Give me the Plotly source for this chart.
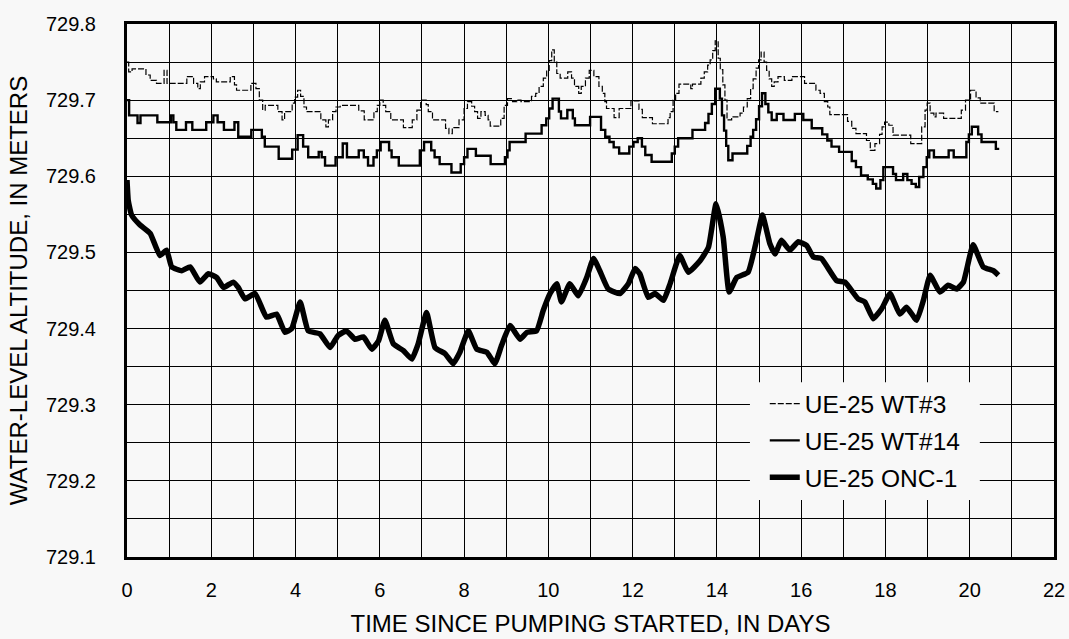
import plotly.graph_objects as go

# ---------------- data ----------------
wt3_days = [0.00, 0.04, 0.12, 0.45, 0.55, 0.70, 0.88, 0.95, 1.42, 1.58, 1.68, 1.74, 1.84, 2.05, 2.12,
            2.45, 2.55, 2.60, 2.94, 3.06, 3.14, 3.22, 3.28, 3.58, 3.68, 3.74, 3.92, 3.98, 4.05, 4.12,
            4.20, 4.26, 4.60, 4.72, 4.78, 4.88, 4.96, 5.06, 5.50, 5.63, 5.86, 5.94, 6.00, 6.08, 6.14,
            6.26, 6.56, 6.77, 6.88, 6.97, 7.10, 7.15, 7.25, 7.56, 7.64, 7.72, 7.88, 8.00, 8.08, 8.18,
            8.25, 8.32, 8.40, 8.50, 8.57, 8.62, 8.87, 8.95, 9.03, 9.15, 9.25, 9.35, 9.60, 9.70, 9.78,
            9.88, 9.96, 10.02, 10.08, 10.14, 10.20, 10.28, 10.46, 10.55, 10.62, 10.72, 10.78, 10.88,
            10.97, 11.08, 11.20, 11.28, 11.34, 11.38, 11.56, 11.68, 11.96, 12.15, 12.23, 12.47, 12.84,
            12.89, 12.96, 13.02, 13.10, 13.38, 13.42, 13.62, 13.70, 13.78, 13.84, 13.90, 13.96, 14.03,
            14.08, 14.14, 14.19, 14.24, 14.35, 14.55, 14.63, 14.72, 14.80, 14.86, 14.93, 14.99, 15.05,
            15.12, 15.18, 15.24, 15.30, 15.36, 15.45, 15.60, 15.78, 16.08, 16.35, 16.45, 16.55, 16.63,
            16.68, 17.10, 17.20, 17.30, 17.55, 17.64, 17.75, 17.86, 17.92, 17.98, 18.08, 18.18, 18.60,
            18.86, 18.94, 18.99, 19.06, 19.15, 19.20, 19.38, 19.80, 19.90, 20.02, 20.15, 20.25, 20.58,
            20.68]
wt3_m = [729.750, 729.737, 729.741, 729.733, 729.726, 729.722, 729.739, 729.722, 729.731, 729.722,
         729.715, 729.724, 729.731, 729.728, 729.724, 729.731, 729.720, 729.713, 729.722, 729.715,
         729.700, 729.687, 729.693, 729.685, 729.674, 729.685, 729.696, 729.704, 729.713, 729.705,
         729.691, 729.685, 729.674, 729.665, 729.674, 729.685, 729.691, 729.693, 729.686, 729.674,
         729.685, 729.693, 729.700, 729.693, 729.685, 729.674, 729.664, 729.674, 729.687, 729.700,
         729.694, 729.685, 729.674, 729.663, 729.656, 729.664, 729.674, 729.689, 729.698, 729.692,
         729.685, 729.676, 729.685, 729.680, 729.674, 729.666, 729.676, 729.693, 729.702, 729.698,
         729.700, 729.698, 729.705, 729.709, 729.718, 729.729, 729.739, 729.752, 729.766, 729.750,
         729.735, 729.729, 729.737, 729.729, 729.718, 729.709, 729.718, 729.729, 729.739, 729.731,
         729.718, 729.709, 729.698, 729.689, 729.677, 729.689, 729.699, 729.688, 729.677, 729.669,
         729.677, 729.685, 729.700, 729.709, 729.721, 729.715, 729.721, 729.729, 729.737, 729.746,
         729.753, 729.765, 729.778, 729.755, 729.740, 729.720, 729.700, 729.674, 729.678, 729.683,
         729.691, 729.702, 729.715, 729.728, 729.742, 729.753, 729.763, 729.750, 729.739, 729.728,
         729.718, 729.724, 729.731, 729.726, 729.731, 729.722, 729.713, 729.709, 729.698, 729.691,
         729.681, 729.672, 729.663, 729.656, 729.647, 729.634, 729.643, 729.655, 729.665, 729.671,
         729.667, 729.654, 729.643, 729.665, 729.687, 729.696, 729.683, 729.678, 729.683, 729.676,
         729.687, 729.700, 729.713, 729.703, 729.696, 729.685, 729.685]

wt14_days = [0.00, 0.05, 0.25, 0.32, 0.72, 1.04, 1.10, 1.17, 1.40, 1.55, 1.88, 2.05, 2.15, 2.30, 2.55,
             2.64, 2.95, 3.20, 3.27, 3.60, 3.92, 4.05, 4.18, 4.30, 4.55, 4.62, 4.70, 4.95, 5.12, 5.22,
             5.50, 5.62, 5.72, 5.85, 5.93, 6.02, 6.22, 6.28, 6.45, 6.95, 7.05, 7.22, 7.30, 7.42, 7.70,
             7.92, 8.00, 8.08, 8.28, 8.63, 8.97, 9.03, 9.08, 9.46, 9.84, 9.95, 10.02, 10.10, 10.25,
             10.30, 10.45, 10.58, 10.63, 10.99, 11.25, 11.35, 11.45, 11.55, 11.68, 11.92, 12.02, 12.12,
             12.22, 12.30, 12.45, 12.93, 13.00, 13.08, 13.42, 13.72, 13.80, 13.88, 13.96, 14.07, 14.12,
             14.17, 14.22, 14.27, 14.37, 14.72, 14.80, 14.86, 14.93, 15.00, 15.07, 15.15, 15.22, 15.30,
             15.42, 15.58, 15.85, 16.05, 16.25, 16.50, 16.62, 16.72, 16.90, 17.20, 17.30, 17.42, 17.58,
             17.70, 17.78, 17.88, 17.95, 18.18, 18.25, 18.42, 18.52, 18.62, 18.72, 18.80, 18.90, 18.98,
             19.04, 19.15, 19.50, 19.62, 19.92, 19.98, 20.05, 20.20, 20.28, 20.62, 20.70]
wt14_m = [729.700, 729.680, 729.670, 729.680, 729.671, 729.680, 729.671, 729.661, 729.671, 729.661,
          729.671, 729.680, 729.671, 729.661, 729.671, 729.652, 729.661, 729.652, 729.639, 729.623,
          729.635, 729.654, 729.639, 729.625, 729.632, 729.625, 729.614, 729.625, 729.643, 729.625,
          729.634, 729.625, 729.614, 729.625, 729.634, 729.645, 729.634, 729.625, 729.614, 729.634,
          729.645, 729.634, 729.625, 729.616, 729.605, 729.616, 729.625, 729.636, 729.627, 729.616,
          729.625, 729.634, 729.645, 729.656, 729.667, 729.676, 729.689, 729.702, 729.685, 729.676,
          729.687, 729.676, 729.667, 729.678, 729.661, 729.652, 729.645, 729.638, 729.630, 729.639,
          729.645, 729.650, 729.639, 729.628, 729.619, 729.630, 729.639, 729.650, 729.661, 729.670,
          729.682, 729.695, 729.715, 729.702, 729.680, 729.660, 729.640, 729.621, 729.630, 729.640,
          729.652, 729.661, 729.675, 729.692, 729.709, 729.695, 729.684, 729.674, 729.682, 729.674,
          729.682, 729.674, 729.663, 729.655, 729.647, 729.639, 729.632, 729.620, 729.612, 729.601,
          729.596, 729.590, 729.584, 729.595, 729.612, 729.603, 729.595, 729.603, 729.595, 729.590,
          729.586, 729.599, 729.612, 729.625, 729.634, 729.625, 729.634, 729.625, 729.645, 729.655,
          729.665, 729.655, 729.645, 729.636, 729.636]

onc1_days = [0.00, 0.03, 0.11, 0.31, 0.55, 0.78, 0.94, 1.06, 1.30, 1.50, 1.73, 1.93, 2.13, 2.29, 2.52,
             2.64, 2.80, 3.04, 3.31, 3.55, 3.75, 3.91, 4.11, 4.30, 4.58, 4.82, 5.01, 5.21, 5.41, 5.61,
             5.81, 5.97, 6.12, 6.32, 6.56, 6.76, 6.91, 7.11, 7.31, 7.55, 7.74, 7.90, 8.10, 8.30, 8.54,
             8.73, 8.89, 9.09, 9.33, 9.49, 9.72, 9.88, 10.04, 10.20, 10.31, 10.51, 10.71, 10.91, 11.07,
             11.22, 11.42, 11.70, 11.90, 12.06, 12.17, 12.37, 12.53, 12.73, 12.89, 13.12, 13.32, 13.60,
             13.80, 13.98, 14.15, 14.29, 14.47, 14.74, 14.94, 15.08, 15.26, 15.38, 15.53, 15.73, 15.93,
             16.13, 16.29, 16.48, 16.84, 17.04, 17.35, 17.51, 17.71, 17.91, 18.11, 18.34, 18.50, 18.74,
             18.90, 19.06, 19.29, 19.49, 19.69, 19.85, 20.08, 20.32, 20.56, 20.68]
onc1_m = [729.595, 729.568, 729.549, 729.536, 729.525, 729.496, 729.503, 729.481, 729.476, 729.481,
          729.461, 729.472, 729.467, 729.454, 729.461, 729.454, 729.439, 729.446, 729.415, 729.419,
          729.395, 729.400, 729.435, 729.397, 729.393, 729.375, 729.391, 729.397, 729.386, 729.389,
          729.373, 729.384, 729.411, 729.380, 729.371, 729.360, 729.380, 729.421, 729.375, 729.367,
          729.354, 729.369, 729.397, 729.373, 729.369, 729.354, 729.378, 729.404, 729.386, 729.395,
          729.397, 729.424, 729.446, 729.459, 729.435, 729.459, 729.443, 729.467, 729.492, 729.476,
          729.452, 729.446, 729.459, 729.479, 729.472, 729.441, 729.446, 729.437, 729.459, 729.496,
          729.474, 729.489, 729.507, 729.564, 729.520, 729.448, 729.467, 729.474, 729.516, 729.549,
          729.511, 729.498, 729.516, 729.503, 729.514, 729.509, 729.494, 729.492, 729.463, 729.461,
          729.439, 729.435, 729.413, 729.426, 729.446, 729.419, 729.428, 729.411, 729.437, 729.470,
          729.448, 729.457, 729.452, 729.461, 729.510, 729.481, 729.476, 729.470]

series_names = ["UE-25 WT#3", "UE-25 WT#14", "UE-25 ONC-1"]
x_tick_vals = [0, 2, 4, 6, 8, 10, 12, 14, 16, 18, 20, 22]
y_tick_vals = [729.1, 729.2, 729.3, 729.4, 729.5, 729.6, 729.7, 729.8]
y_tick_text = ["729.1", "729.2", "729.3", "729.4", "729.5", "729.6", "729.7", "729.8"]

# ---------------- figure ----------------
BG = "#f8f8f8"
FONT = "Liberation Sans, Arial, sans-serif"

fig = go.Figure()
fig.add_trace(go.Scatter(x=wt3_days, y=wt3_m, mode="lines", name=series_names[0],
                         line=dict(color="black", width=1.2, dash="6px,2px", shape="hv"),
                         legendgroup="a"))
fig.add_trace(go.Scatter(x=wt14_days, y=wt14_m, mode="lines", name=series_names[1],
                         line=dict(color="black", width=2.4, shape="hv"), legendgroup="b"))
fig.add_trace(go.Scatter(x=onc1_days, y=onc1_m, mode="lines", name=series_names[2],
                         line=dict(color="black", width=5.5, shape="spline", smoothing=0.4),
                         legendgroup="c"))

# blank box behind the legend (covers the grid; no data in that area)
fig.add_shape(type="rect", xref="paper", yref="paper", x0=0.672, x1=0.920, y0=0.107, y1=0.328,
              fillcolor=BG, line=dict(width=0), layer="above")

fig.update_layout(
    width=1069, height=639,
    paper_bgcolor=BG, plot_bgcolor=BG,
    margin=dict(l=127, r=15, t=24, b=82, autoexpand=False),
    font=dict(family=FONT, size=20, color="black"),
    showlegend=True,
    legend=dict(x=0.688, y=0.330, xanchor="left", yanchor="top", bgcolor="rgba(0,0,0,0)",
                font=dict(size=24.5), tracegroupgap=2, itemwidth=30),
)
fig.update_xaxes(
    range=[0, 22], tickvals=x_tick_vals, ticks="outside", ticklen=0, automargin=False,
    ticklabelstandoff=13,
    showgrid=True, gridcolor="black", gridwidth=1.2,
    minor=dict(dtick=1, showgrid=True, gridcolor="black", gridwidth=1.2),
    showline=True, linecolor="black", linewidth=3, mirror=True, zeroline=False,
    title=dict(text="TIME SINCE PUMPING STARTED, IN DAYS", font=dict(size=24), standoff=16),
)
fig.update_yaxes(
    range=[729.1, 729.8], tickvals=y_tick_vals, ticktext=y_tick_text, ticks="outside", ticklen=0,
    automargin=False, ticklabelstandoff=24,
    showgrid=True, gridcolor="black", gridwidth=1.2,
    minor=dict(dtick=0.05, tick0=729.1, showgrid=True, gridcolor="black", gridwidth=1.2),
    showline=True, linecolor="black", linewidth=3, mirror=True, zeroline=False,
    title=dict(text="WATER-LEVEL ALTITUDE, IN METERS", font=dict(size=24), standoff=12),
)

fig.write_html("out.html", config={"displayModeBar": False},
               post_script="document.body.style.margin='0px';")
